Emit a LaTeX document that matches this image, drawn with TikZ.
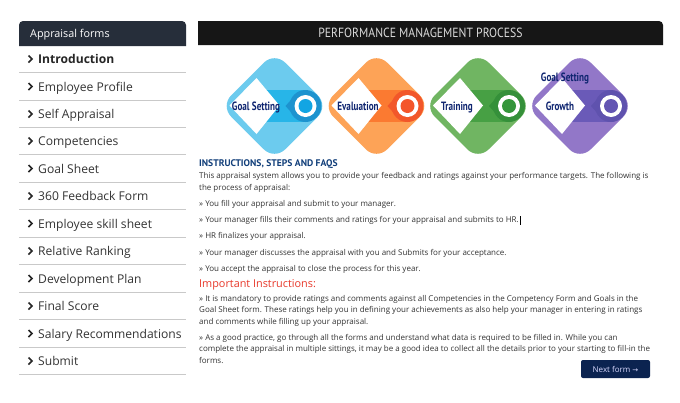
\documentclass[tikz,border=0pt]{standalone}
\usepackage{fontspec}
\usepackage{xcolor}
\setmainfont{Open Sans}
\newfontfamily\ptfont{PT Sans}
\newfontfamily\titlefont[FakeStretch=0.88]{PT Sans}
\newfontfamily\lblfont[FakeStretch=0.76]{PT Sans}
\newfontfamily\arrowfont{DejaVu Sans}
\definecolor{navy}{HTML}{262E3A}
\definecolor{barblack}{HTML}{161616}
\definecolor{rowgrey}{HTML}{C9C9C9}
\definecolor{bodytext}{HTML}{333333}
\definecolor{headblue}{HTML}{123F7A}
\definecolor{lblblue}{HTML}{0F2570}
\definecolor{warnred}{HTML}{E8392B}
\definecolor{btnblue}{HTML}{0B2350}
\definecolor{skylight}{HTML}{6CCBEE}
\definecolor{skymid}{HTML}{27B5E8}
\definecolor{skydark}{HTML}{1D93CF}
\definecolor{skydot}{HTML}{12A5E3}
\definecolor{orlight}{HTML}{FDA357}
\definecolor{ormid}{HTML}{FB7A31}
\definecolor{ordark}{HTML}{F2572A}
\definecolor{ordot}{HTML}{F4562B}
\definecolor{grlight}{HTML}{70B562}
\definecolor{grmid}{HTML}{47A044}
\definecolor{grdark}{HTML}{35903A}
\definecolor{grdot}{HTML}{35963B}
\definecolor{pulight}{HTML}{9277C8}
\definecolor{pumid}{HTML}{6A5AB8}
\definecolor{pudark}{HTML}{5F52AE}
\definecolor{pudot}{HTML}{6355B3}
\tikzset{
  rowtext/.style={anchor=base west, inner sep=0pt, text=bodytext, font=\fontsize{12.1}{15}\selectfont},
  rowrule/.style={draw=rowgrey, line width=0.9pt},
  chev/.style={draw=black!85, line width=1.5pt, line join=miter},
  body/.style={anchor=base west, inner sep=0pt, text=bodytext, font=\fontsize{8}{10}\selectfont},
  lbl/.style={inner sep=0pt, anchor=base, text=lblblue, font=\lblfont\bfseries\fontsize{12}{14}\selectfont},
}
\begin{document}
\begin{tikzpicture}[x=1pt,y=-1pt]
  \useasboundingbox (0,0) rectangle (680,402);
  \fill[white] (0,0) rectangle (680,402);

  % side menu
  \fill[navy] (19,46) -- (19,25) [rounded corners=4pt] -- (19,21) -- (186,21) [sharp corners] -- (186,46) -- cycle;
  \node[anchor=base west, inner sep=0pt, text=white, font=\fontsize{10.8}{13}\selectfont] (menuhead) at (30,37.5) {Appraisal forms};
  \foreach \y/\name in {86.5/Employee Profile, 114/Self Appraisal, 141/Competencies, 168.5/Goal Sheet,
      196/360 Feedback Form, 223.5/Employee skill sheet, 251/Relative Ranking, 278.5/Development Plan,
      306/Final Score, 333.5/Salary Recommendations, 361/Submit}{
    \node[rowtext] at (38,\y+4.5) {\name};
    \draw[chev] (28.5,\y-3.5) -- (32,\y) -- (28.5,\y+3.5);
    \draw[rowrule] (19,\y+13.8) -- (186,\y+13.8);
  }
  \node[rowtext, font=\bfseries\fontsize{12.1}{15}\selectfont, text=black!85] at (38,63.5) {Introduction};
  \draw[chev] (28.5,55.5) -- (32,59) -- (28.5,62.5);
  \draw[rowrule] (19,72.3) -- (186,72.3);

  % title bar
  \fill[barblack] (198,45) -- (198,21) [rounded corners=4pt] -- (663,21) [sharp corners] -- (663,45) -- cycle;
  \node[anchor=base, inner sep=0pt, text=white!85!black, font=\titlefont\fontsize{13.3}{15}\selectfont] (title) at (420.5,37.5) {PERFORMANCE MANAGEMENT PROCESS};

  % process badges
  \foreach \cx/\pre/\lx/\name in {274.5/sky/-18.5/Goal Setting, 376.5/or/-18.5/Evaluation, 478/gr/-21/Training, 580/pu/-20/Growth}{
    \begin{scope}[shift={(\cx,106)}]
      \fill[\pre light, rounded corners=15pt] (-54,0) -- (0,-54) -- (54,0) -- (0,54) -- cycle;
      \fill[\pre mid] (-12,-16) -- (31,-16) -- (31,16) -- (-12,16) -- cycle;
      \fill[\pre dark] (11,0) -- (24,-14.5) -- (24,14.5) -- cycle;
      \fill[\pre dark] (31,0) circle (16);
      \fill[white] (31,0) circle (11);
      \fill[\pre dot] (31,0) circle (7);
      \fill[white] (-45,-0.5) -- (-18,-28) -- (5,-0.5) -- (-18,28) -- cycle;
      \node[lbl] at (\lx,4) {\name};
    \end{scope}
  }
  \node[lbl] (extragoal) at (565,81) {Goal Setting};

  % instruction text
  \node[anchor=base west, inner sep=0pt, text=headblue, font=\ptfont\bfseries\fontsize{9.6}{12}\selectfont] (insthead) at (199,166.5) {INSTRUCTIONS, STEPS AND FAQS};
  \node[body] at (199,178.5) {This appraisal system allows you to provide your feedback and ratings against your performance targets. The following is};
  \node[body] at (199,190) {the process of appraisal:};
  \node[body] at (199,206.5) {» You fill your appraisal and submit to your manager.};
  \node[body] (mgrline) at (199,222.5) {» Your manager fills their comments and ratings for your appraisal and submits to HR.};
  \draw[black, line width=0.5pt] ([xshift=1pt]mgrline.north east) -- ([xshift=1pt]mgrline.south east);
  \node[body] at (199,238.5) {» HR finalizes your appraisal.};
  \node[body] at (199,255) {» Your manager discusses the appraisal with you and Submits for your acceptance.};
  \node[body] at (199,271) {» You accept the appraisal to close the process for this year.};
  \node[anchor=base west, inner sep=0pt, text=warnred, font=\fontsize{10.85}{13}\selectfont] (warnhead) at (199,287) {Important Instructions:};
  \node[body] at (199,301) {» It is mandatory to provide ratings and comments against all Competencies in the Competency Form and Goals in the};
  \node[body] at (199,312.5) {Goal Sheet form. These ratings help you in defining your achievements as also help your manager in entering in ratings};
  \node[body] at (199,324) {and comments while filling up your appraisal.};
  \node[body] at (199,340) {» As a good practice, go through all the forms and understand what data is required to be filled in. While you can};
  \node[body] at (199,351.5) {complete the appraisal in multiple sittings, it may be a good idea to collect all the details prior to your starting to fill-in the};
  \node[body] at (199,363) {forms.};

  % button
  \fill[btnblue, rounded corners=2pt] (581,360) rectangle (650,378);
  \node[anchor=base, inner sep=0pt, text=white!85!blue, font=\fontsize{8}{10}\selectfont] (nextform) at (615.5,372) {Next form {\arrowfont\fontsize{7}{10}\selectfont →}};
\end{tikzpicture}
\end{document}
